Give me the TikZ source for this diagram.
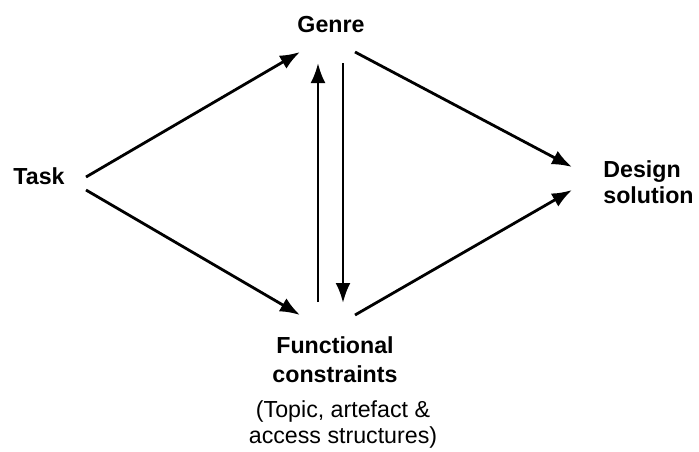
\documentclass[tikz,border=0pt]{standalone}
\usepackage{fontspec}
\setmainfont{Liberation Sans}
\usetikzlibrary{arrows.meta}

\begin{document}
\begin{tikzpicture}[
  x=0.5pt, y=-0.5pt,
  label/.style={
    inner sep=0pt,
    font=\fontsize{11.6}{13}\selectfont\bfseries
  },
  note/.style={
    inner sep=0pt,
    align=center,
    font=\fontsize{11.6}{13}\selectfont
  },
  arrow/.style={-{Latex[length=10pt,width=7.5pt]},line width=1.4pt}
]
  \useasboundingbox (0,0) rectangle (699,451);

  \node[label,anchor=base] (task) at (39,184) {Task};
  \node[label,anchor=base] (genre) at (331,32) {Genre};
  \node[label,anchor=base west,align=left] (design) at (603,203) {Design\\solution};
  \node[label,anchor=base,align=center,font=\fontsize{11.6}{14.5}\selectfont\bfseries] (func) at (335,382) {Functional\\constraints};
  \node[note,anchor=base] (access) at (343,443) {(Topic, artefact \&\\access structures)};

  \draw[arrow] ([shift={(47,-7)}]task.base) -- ([shift={(-31,20)}]genre.base);
  \draw[arrow] ([shift={(47,6)}]task.base) -- ([shift={(-35,-67)}]func.base);
  \draw[arrow] ([shift={(24,20)}]genre.base) -- ([shift={(-31,-36)}]design.base west);
  \draw[arrow] ([shift={(20,-67)}]func.base) -- ([shift={(-31,-13)}]design.base west);
  \draw[arrow] ([shift={(-17,-80)}]func.base) -- ([shift={(-13,31)}]genre.base);
  \draw[arrow] ([shift={(12,31)}]genre.base) -- ([shift={(8,-79)}]func.base);
\end{tikzpicture}
\end{document}
